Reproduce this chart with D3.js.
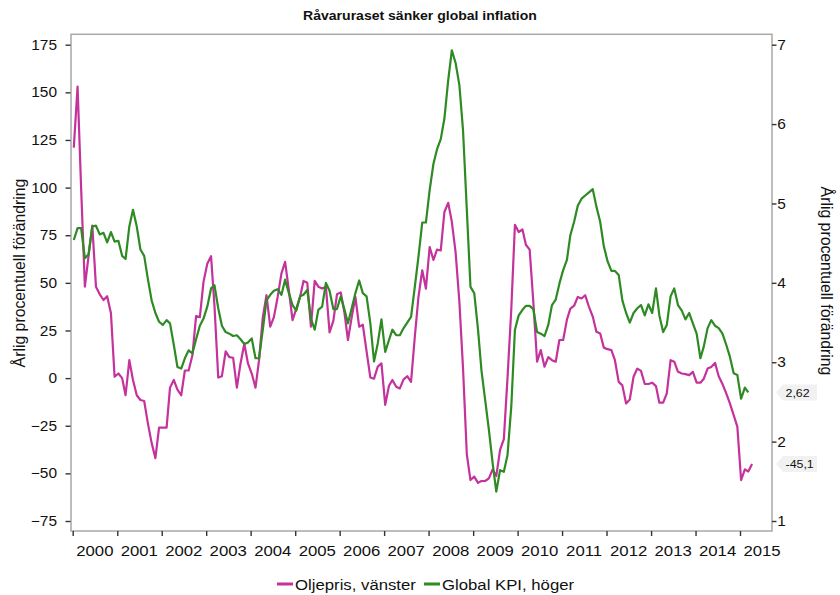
<!DOCTYPE html>
<html><head><meta charset="utf-8">
<script src="https://cdn.jsdelivr.net/npm/d3@7"></script>
<style>body{margin:0;background:#fff} text{font-family:"Liberation Sans",Arial,Helvetica,sans-serif;fill:#111}</style>
</head><body><svg id="c" width="840" height="595"></svg>
<script>
// ---------- data ----------
const chartTitle = "Råvaruraset sänker global inflation";
const axisTitle = "Årlig procentuell förändring";
const seriesNames = ["Oljepris, vänster", "Global KPI, höger"];
const firstYear = 2000; // monthly data from January 2000
const oilValues = [
 121,153,100,48,64,80,48,44,41,43,34,0.7,
 2.4,0,-9,9.4,-1,-9,-11.5,-12,-24,-34,-42,-26,
 -26,-26,-5,-1,-6,-9,4,4,12,32.5,32,50.5,
 60,64,38,0.3,1,14,11,10.7,-5,7.7,18,7.7,
 2.4,-5,9.4,32,43.5,27,32,42.6,55,61,46,30.4,
 36.5,42.6,51,50,27,51,48,47,48,24,30,44,
 45,34,20,32,42.6,27,28,14,0.3,-0.3,6,7.7,
 -14,-4,-1,-4.5,-5.4,-0.7,1,-2,21.7,42.6,56.6,47,
 68.8,62,67.4,67,87.2,92,82,66,40,5,-40,-53.5,
 -51.7,-55,-54,-54,-52.6,-48,-51.4,-37.7,-32,0,36,80.5,
 76.7,78,70,67.4,40,8.6,14.7,6,11,9.4,8.6,20,
 20,30.7,36.5,38,42.6,41.8,43.5,37.4,32.3,24.3,23.4,16,
 15.2,14.7,9.4,-2,-3.8,-13.3,-11.2,0.7,5,3.8,-3.1,-3.1,
 -2.4,-4.2,-12.9,-12.9,-8,9.4,8.6,3.3,2.4,2.1,1.6,3.3,
 -2.4,-2.4,-0.3,5,5.8,8,1,-3.1,-8,-13.3,-19.4,-25.5,
 -53.5,-47.9,-49,-45.1
];
const cpiValues = [
 4.54,4.69,4.69,4.31,4.36,4.71,4.72,4.61,4.63,4.51,4.64,4.52,
 4.53,4.34,4.30,4.71,4.92,4.71,4.42,4.34,4.04,3.78,3.62,3.51,
 3.47,3.53,3.49,3.22,2.94,2.92,3.05,3.15,3.11,3.29,3.46,3.55,
 3.70,3.93,3.97,3.68,3.46,3.38,3.36,3.33,3.34,3.29,3.23,3.25,
 3.30,3.05,3.05,3.41,3.78,3.85,3.90,3.92,3.85,4.04,3.87,3.72,
 3.65,3.83,3.85,3.91,3.55,3.41,3.66,3.70,4.00,3.90,3.67,3.67,
 3.83,3.66,3.49,3.68,3.87,4.03,3.87,3.83,3.49,3.01,3.24,3.54,
 3.13,3.28,3.41,3.34,3.34,3.43,3.50,3.57,3.95,4.33,4.76,4.76,
 5.17,5.50,5.68,5.81,6.07,6.55,6.93,6.77,6.49,5.92,4.92,3.95,
 3.87,3.41,2.90,2.52,2.15,1.73,1.37,1.64,1.62,1.83,2.44,3.41,
 3.59,3.66,3.71,3.71,3.67,3.38,3.36,3.33,3.47,3.72,3.79,3.99,
 4.16,4.29,4.60,4.77,4.97,5.06,5.10,5.14,5.18,4.96,4.77,4.46,
 4.27,4.15,4.15,4.10,3.78,3.62,3.50,3.62,3.68,3.72,3.59,3.73,
 3.62,3.93,3.59,3.38,3.47,3.83,3.93,3.72,3.65,3.54,3.62,3.49,
 3.36,3.05,3.20,3.43,3.53,3.46,3.43,3.36,3.22,3.07,2.86,2.84,
 2.54,2.68,2.62
];
const leftTicks = [175,150,125,100,75,50,25,0,-25,-50,-75];
const rightTicks = [7,6,5,4,3,2,1];
const yearLabels = [2000,2001,2002,2003,2004,2005,2006,2007,2008,2009,2010,2011,2012,2013,2014,2015];
const endLabelOil = "-45,1";
const endLabelCpi = "2,62";

// ---------- styles / layout ----------
const pink = "#c4329b", green = "#2e8a22";
const frame = {l:71, t:34.3, r:772, b:531};
const SX = 1.08; // horizontal text stretch seen in reference

const svg = d3.select("#c");
const x = d3.scaleTime().domain([new Date(2000,0,1), new Date(2015,0,1)]).range([72.7, 740]);
const yL = d3.scaleLinear().domain([-75,175]).range([521,44.7]);
const yR = d3.scaleLinear().domain([1,7]).range([521,44.7]);

const dateOf = i => d3.timeMonth.offset(new Date(firstYear,0,10), i);
const oil = oilValues.map((v,i)=>({date:dateOf(i), v}));
const cpi = cpiValues.map((v,i)=>({date:dateOf(i), v}));

function stretch(sel){
  sel.each(function(){
    const t=d3.select(this);
    const tx=+t.attr("x")||0, ty=+t.attr("y")||0;
    t.attr("x",0).attr("y",0).attr("transform",`translate(${tx},${ty}) scale(${SX},1)`);
  });
}

// title
svg.append("text").attr("x",420).attr("y",20).attr("text-anchor","middle")
  .style("font-weight","bold").style("font-size","13px").text(chartTitle).call(stretch);

// frame
svg.append("rect").attr("x",frame.l).attr("y",frame.t)
  .attr("width",frame.r-frame.l).attr("height",frame.b-frame.t)
  .attr("fill","none").attr("stroke","#a8a8a8").attr("stroke-width",1.5);

// left axis
const gL = svg.append("g").attr("transform",`translate(${frame.l-0.5},0)`)
  .call(d3.axisLeft(yL).tickValues(leftTicks).tickFormat(d3.format("d")).tickSize(5).tickSizeOuter(0).tickPadding(8.5));
gL.select(".domain").remove();
gL.selectAll(".tick line").attr("stroke","#333").attr("stroke-width",1.4);
gL.selectAll(".tick text").style("font-size","14.3px").attr("fill","#111").call(stretch);

// right axis
const gR = svg.append("g").attr("transform",`translate(${frame.r},0)`)
  .call(d3.axisRight(yR).tickValues(rightTicks).tickFormat(d3.format("d")).tickSize(4.5).tickSizeOuter(0).tickPadding(0.8));
gR.select(".domain").remove();
gR.selectAll(".tick line").attr("stroke","#333").attr("stroke-width",1.4);
gR.selectAll(".tick text").style("font-size","14.3px").attr("fill","#111").call(stretch);

// bottom axis: ticks at year starts, labels at mid-year
const gB = svg.append("g").attr("transform",`translate(0,${frame.b})`)
  .call(d3.axisBottom(x).tickValues(yearLabels.map(y=>new Date(y,0,1))).tickSize(5).tickSizeOuter(0).tickFormat(""));
gB.select(".domain").remove();
gB.selectAll(".tick line").attr("stroke","#333").attr("stroke-width",1.4);
svg.append("g").selectAll("text").data(yearLabels).join("text")
  .attr("x",d=>x(new Date(d,6,1))).attr("y",556).attr("text-anchor","middle")
  .style("font-size","15.5px").text(d=>d).call(stretch);

// axis titles
svg.append("text").attr("transform","translate(25,273) rotate(-90)").attr("text-anchor","middle")
  .style("font-size","15.8px").text(axisTitle);
svg.append("text").attr("transform","translate(821,281) rotate(90)").attr("text-anchor","middle")
  .style("font-size","15.8px").text(axisTitle);

// lines
const lineL = d3.line().x(d=>x(d.date)).y(d=>yL(d.v));
const lineR = d3.line().x(d=>x(d.date)).y(d=>yR(d.v));
svg.append("path").datum(oil).attr("d",lineL).attr("fill","none").attr("stroke",pink)
  .attr("stroke-width",2.2).attr("stroke-linejoin","round");
svg.append("path").datum(cpi).attr("d",lineR).attr("fill","none").attr("stroke",green)
  .attr("stroke-width",2.2).attr("stroke-linejoin","round");

// end labels
function endLabel(cy, txt){
  const g = svg.append("g");
  g.append("path").attr("d",`M776,${cy} L783,${cy-8} L817,${cy-8} L817,${cy+8} L783,${cy+8} Z`)
    .attr("fill","#f1f1f1");
  g.append("text").attr("x",785.5).attr("y",cy+4.2).style("font-size","11.5px").text(txt).call(stretch);
}
endLabel(yR(cpiValues[cpiValues.length-1]), endLabelCpi);
endLabel(yL(oilValues[oilValues.length-1]), endLabelOil);

// legend
const leg = [{name:seriesNames[0], color:pink, x:277},{name:seriesNames[1], color:green, x:424}];
const lg = svg.append("g");
lg.selectAll("line").data(leg).join("line")
  .attr("x1",d=>d.x).attr("x2",d=>d.x+16).attr("y1",584).attr("y2",584)
  .attr("stroke",d=>d.color).attr("stroke-width",3);
lg.selectAll("text").data(leg).join("text")
  .attr("x",d=>d.x+18).attr("y",589.5).style("font-size","15.5px").text(d=>d.name).call(stretch);
</script></body></html>
